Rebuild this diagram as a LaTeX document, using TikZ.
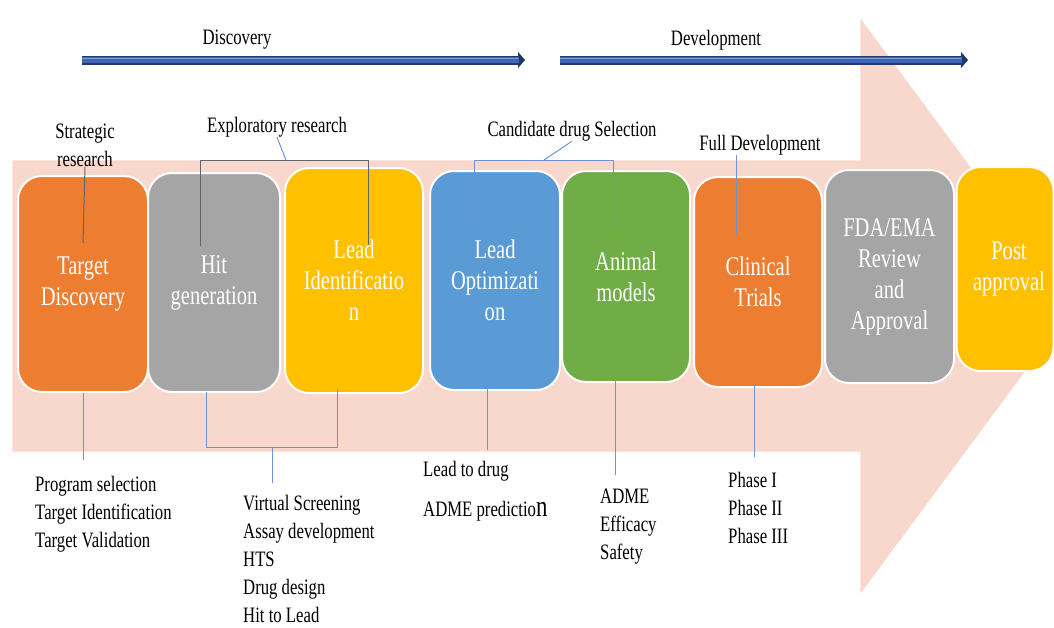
\documentclass[tikz,border=0pt]{standalone}
\usepackage{fontspec}
\setmainfont{Liberation Serif}[FakeStretch=0.76]
\usetikzlibrary{arrows.meta}

\definecolor{pinkbg}{HTML}{F8D7CC}
\definecolor{orangebox}{HTML}{ED7D31}
\definecolor{graybox}{HTML}{A5A5A5}
\definecolor{yellowbox}{HTML}{FFC000}
\definecolor{bluebox}{HTML}{5B9BD5}
\definecolor{greenbox}{HTML}{70AD47}
\definecolor{linkblue}{HTML}{6F92D2}
\definecolor{linkgray}{HTML}{5F6670}
\definecolor{barDark}{HTML}{22386A}
\definecolor{barMid}{HTML}{3F68B4}
\definecolor{barLight}{HTML}{7C9CD8}

\tikzset{
  stage/.style={draw=white, line width=2pt, rounded corners=24pt, text=white,
    align=center, inner sep=0pt, font=\fontsize{27}{31}\selectfont},
  lbl/.style={inner sep=0pt, align=center, font=\fontsize{22}{28}\selectfont},
  lst/.style={inner sep=0pt, align=left, anchor=north west, font=\fontsize{22}{28}\selectfont},
  link/.style={linkblue, line width=1pt},
  linkdark/.style={linkgray, line width=1pt},
  barout/.style={barDark, line width=9pt, -{Triangle[length=7pt,width=16pt]}},
  barin/.style={barMid, line width=6pt, shorten >=6pt},
  barhi/.style={barLight, line width=1.2pt, shorten >=7pt},
}

\begin{document}
\begin{tikzpicture}[x=1pt, y=-1pt]
\useasboundingbox (0,0) rectangle (1054,627);

% large background arrow
\fill[pinkbg, draw=white, line width=0.8pt]
  (12,160) -- (860,160) -- (860,17) -- (1074,306) -- (860,595)
  -- (860,452) -- (12,452) -- cycle;

% phase arrows along the top
\coordinate (discS) at (82,60);
\coordinate (discE) at (525,60);
\coordinate (devS) at (560,60);
\coordinate (devE) at (968,60);
\foreach \s/\e in {discS/discE, devS/devE}{
  \draw[barout] (\s) -- (\e);
  \draw[barin] (\s) -- (\e);
  \draw[barhi] ([yshift=1.5pt]\s) -- ([yshift=1.5pt]\e);
}
\node[lbl] (disc) at (237,40) {Discovery};
\node[lbl] (devl) at (716,40) {Development};

% stage boxes
\node[stage, fill=orangebox, minimum width=130pt, minimum height=216pt] (b1) at (83,284) {Target\\Discovery};
\node[stage, fill=graybox, minimum width=132pt, minimum height=219pt] (b2) at (214,282.5) {Hit\\generation};
\node[stage, fill=yellowbox, minimum width=138pt, minimum height=225pt] (b3) at (354,280.5) {Lead\\Identificatio\\n};
\node[stage, fill=bluebox, minimum width=130pt, minimum height=219pt] (b4) at (495,280.5) {Lead\\Optimizati\\on};
\node[stage, fill=greenbox, minimum width=128pt, minimum height=211pt] (b5) at (626,276.5) {Animal\\models};
\node[stage, fill=orangebox, minimum width=128pt, minimum height=210pt] (b6) at (758,282) {Clinical\\Trials};
\node[stage, fill=graybox, minimum width=129pt, minimum height=213pt] (b7) at (889.5,276.5) {FDA/EMA\\Review\\and\\Approval};
\node[stage, fill=yellowbox, minimum width=97pt, minimum height=204pt, text width=95pt] (b8) at (1005,269) {\hspace*{8pt}Post\\\hspace*{8pt}approval};

% labels above the stages
\node[lbl] (strat) at (85,145) {Strategic\\research};
\node[lbl] (explo) at (277,127) {Exploratory research};
\node[lbl] (cand) at (572,131) {Candidate drug Selection};
\node[lbl] (fulld) at (760,145) {Full Development};

% upper connectors
\coordinate (stratEnd) at (83,243);
\draw[linkdark] (strat.south) -- (stratEnd);

\coordinate (exM) at (286,160);
\coordinate (exL) at (200,246);
\coordinate (exR) at (368,245);
\draw[link] (explo.south) -- (exM);
\draw[linkdark] (exL) -- (exL |- exM) -- (exR |- exM) -- (exR);

\coordinate (caM) at (544,160);
\coordinate (caL) at (474,234);
\coordinate (caR) at (613,234);
\draw[link] (cand.south) -- (caM);
\draw[link] (caL) -- (caL |- caM) -- (caR |- caM) -- (caR);

\coordinate (fdEnd) at (736,235);
\draw[link] (fulld.south -| fdEnd) -- (fdEnd);

% lower connectors
\coordinate (tdEnd) at (83,460);
\draw[link] (b1.south) -- (tdEnd);

\coordinate (hlA) at (206,392);
\coordinate (hlB) at (337,389);
\coordinate (hlBar) at (272,447);
\coordinate (hlEnd) at (272,483);
\draw[link] (hlA) -- (hlA |- hlBar) -- (hlB |- hlBar) -- (hlB);
\draw[link] (hlBar) -- (hlEnd);

\coordinate (loA) at (487,388);
\coordinate (loEnd) at (487,450);
\draw[link] (loA) -- (loEnd);

\coordinate (amA) at (615,381);
\coordinate (amEnd) at (615,475);
\draw[link] (amA) -- (amEnd);

\coordinate (ctA) at (754,386);
\coordinate (ctEnd) at (754,457);
\draw[link] (ctA) -- (ctEnd);

% activity lists below the stages
\node[lst] (tdlist) at (35,476) {Program selection\\Target Identification\\Target Validation};
\node[lst] (hitlist) at (243,495) {Virtual Screening\\Assay development\\HTS\\Drug design\\Hit to Lead};
\node[lst] (lolist) at (423,461) {Lead to drug\\[12pt]ADME predictio{\fontsize{30}{30}\selectfont n}};
\node[lst] (amlist) at (600,489) {ADME\\Efficacy\\Safety};
\node[lst] (ctlist) at (728,472) {Phase I\\Phase II\\Phase III};
\end{tikzpicture}
\end{document}
